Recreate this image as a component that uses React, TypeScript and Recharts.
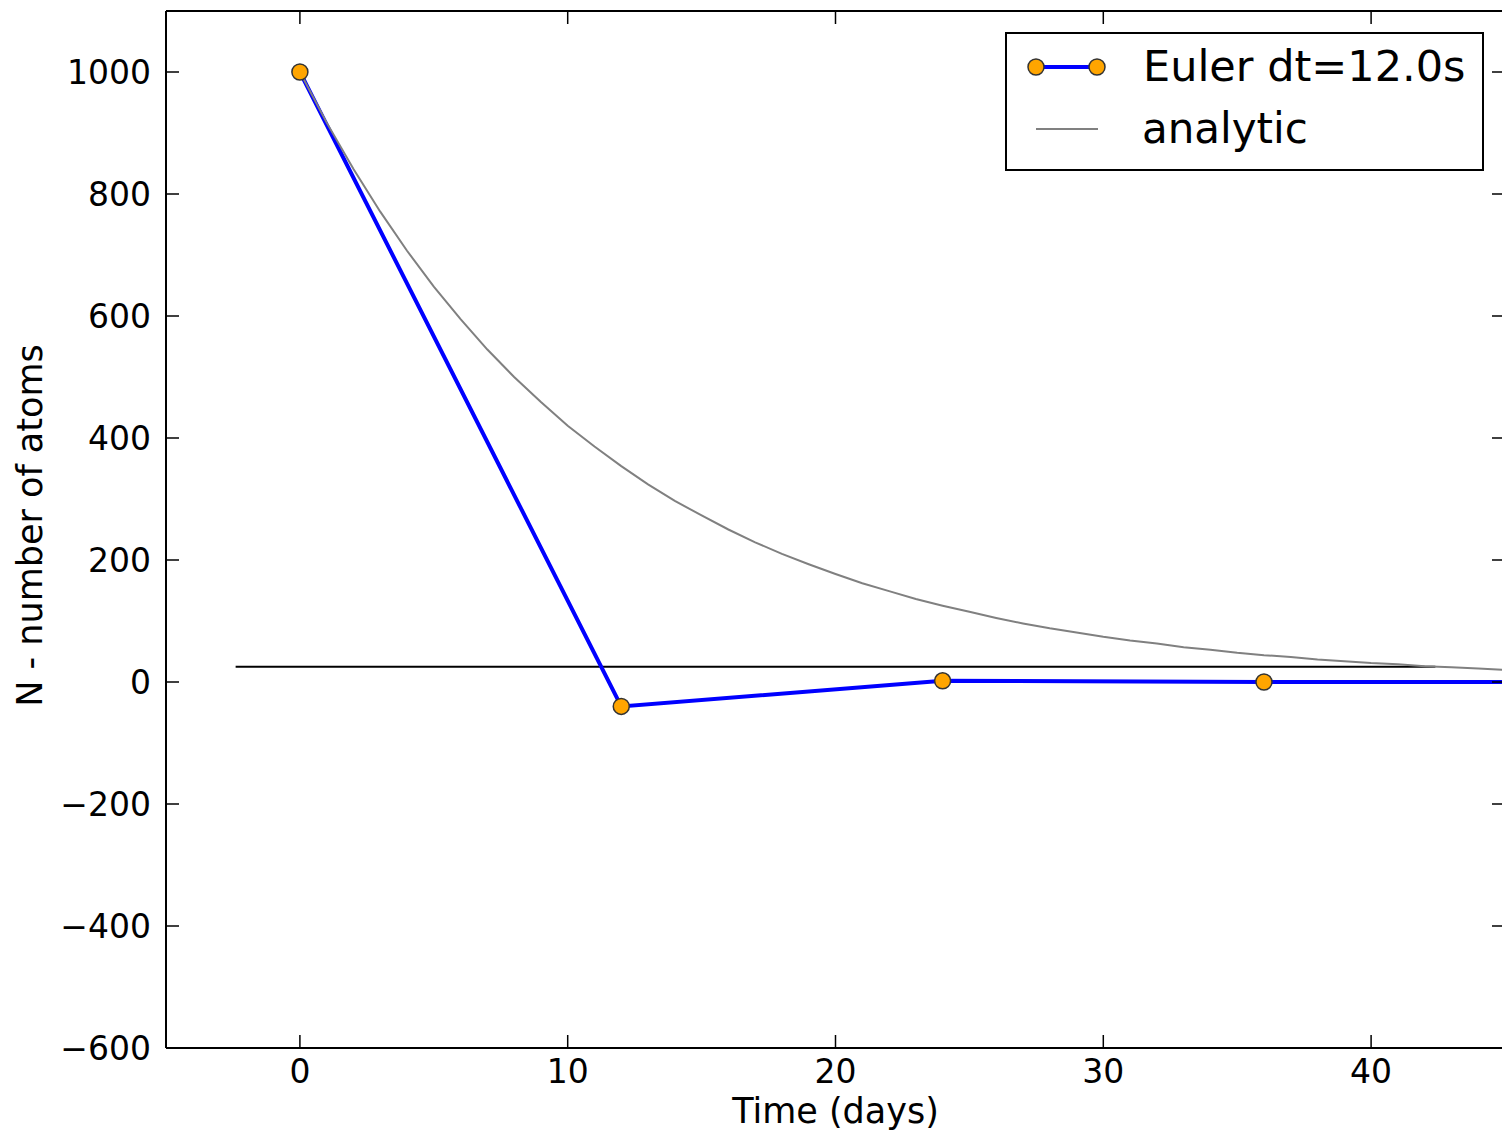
import React from 'react';
import { LineChart, Line, XAxis, YAxis, ReferenceLine, Legend } from 'recharts';

const FONT = '"DejaVu Sans", sans-serif';

const xTicks = [0, 10, 20, 30, 40];
const yTicks = [-600, -400, -200, 0, 200, 400, 600, 800, 1000];
const xDomain: [number, number] = [-5, 45];
const yDomain: [number, number] = [-600, 1100];

const eulerT = [0, 12, 24, 36, 48];
const eulerN = [1000, -40, 2, 0, 0];

const analyticT = [
  0, 1, 2, 3, 4, 5, 6, 7, 8, 9, 10, 11, 12, 13, 14, 15, 16, 17, 18, 19, 20, 21, 22,
  23, 24, 25, 26, 27, 28, 29, 30, 31, 32, 33, 34, 35, 36, 37, 38, 39, 40, 41, 42, 43, 44, 45,
];
const analyticN = [
  1000, 917, 841, 771, 707, 648, 595, 545, 500, 459, 420, 386, 354, 324, 297, 273, 250, 229,
  210, 193, 177, 162, 149, 136, 125, 115, 105, 96, 88, 81, 74, 68, 63, 57, 53, 48, 44, 41, 37,
  34, 31, 29, 26, 24, 22, 20,
];

const refLineT = [-2.4, 42.4];
const refLineN = 25;

const eulerLabel = 'Euler dt=12.0s';
const analyticLabel = 'analytic';
const xLabel = 'Time (days)';
const yLabel = 'N - number of atoms';

const eulerData = eulerT.map((t, i) => ({ t, n: eulerN[i] }));
const analyticData = analyticT.map((t, i) => ({ t, n: analyticN[i] }));

const fmt = (v: number) => (v < 0 ? '\u2212' + Math.abs(v) : String(v));

const TICK_LEN = 13;

const BottomTick = (p: any) => (
  <g>
    <line x1={p.x} y1={p.y} x2={p.x} y2={p.y - TICK_LEN} stroke="#000" strokeWidth={1.5} />
    <text x={p.x} y={p.y + 35} textAnchor="middle" fontSize={33} fontFamily={FONT} fill="#000">
      {fmt(p.payload.value)}
    </text>
  </g>
);

const TopTick = (p: any) => (
  <line x1={p.x} y1={p.y} x2={p.x} y2={p.y + TICK_LEN} stroke="#000" strokeWidth={1.5} />
);

const LeftTick = (p: any) => (
  <g>
    <line x1={p.x} y1={p.y} x2={p.x + TICK_LEN} y2={p.y} stroke="#000" strokeWidth={1.5} />
    <text x={p.x - 15} y={p.y + 12} textAnchor="end" fontSize={33} fontFamily={FONT} fill="#000">
      {fmt(p.payload.value)}
    </text>
  </g>
);

const RightTick = (p: any) => (
  <line x1={p.x} y1={p.y} x2={p.x - TICK_LEN} y2={p.y} stroke="#000" strokeWidth={1.5} />
);

const YLabel = (p: any) => {
  const vb = p.viewBox || { x: 0, y: 11, width: 166, height: 1037 };
  const cx = 42;
  const cy = vb.y + vb.height / 2 - 4;
  return (
    <text
      x={cx}
      y={cy}
      transform={`rotate(-90, ${cx}, ${cy})`}
      textAnchor="middle"
      fontSize={35}
      fontFamily={FONT}
      fill="#000"
    >
      {yLabel}
    </text>
  );
};

const LegendBox = () => (
  <svg width={480} height={140} style={{ display: 'block' }}>
    <rect x={1} y={1} width={477} height={137} fill="#fff" stroke="#000" strokeWidth={2} />
    <line x1={31} y1={35} x2={92} y2={35} stroke="#0000FF" strokeWidth={4} />
    <circle cx={31} cy={35} r={8} fill="#FFA500" stroke="#333" strokeWidth={1.5} />
    <circle cx={92} cy={35} r={8} fill="#FFA500" stroke="#333" strokeWidth={1.5} />
    <text x={138} y={49} fontSize={43} fontFamily={FONT} fill="#000">
      {eulerLabel}
    </text>
    <line x1={31} y1={97} x2={93} y2={97} stroke="#808080" strokeWidth={2} />
    <text x={137} y={111} fontSize={42} fontFamily={FONT} fill="#000">
      {analyticLabel}
    </text>
  </svg>
);

export default function App() {
  return (
    <div
      style={{
        position: 'absolute',
        left: 0,
        top: 0,
        width: 1502,
        height: 1136,
        overflow: 'hidden',
        background: '#fff',
      }}
    >
      <LineChart width={1520} height={1136} margin={{ top: 10, right: 14, bottom: 0, left: 0 }}>
        <XAxis
          xAxisId="b"
          type="number"
          dataKey="t"
          domain={xDomain}
          ticks={xTicks}
          allowDataOverflow
          interval={0}
          tickSize={0}
          tickMargin={0}
          tickLine={false}
          height={88}
          axisLine={{ stroke: '#000', strokeWidth: 2 }}
          tick={BottomTick}
          label={{
            value: xLabel,
            position: 'insideBottom',
            offset: 13,
            fontSize: 35,
            fontFamily: FONT,
            fill: '#000',
            style: { fontSize: 35, fontFamily: FONT, fill: '#000' },
          }}
        />
        <XAxis
          xAxisId="t"
          orientation="top"
          type="number"
          dataKey="t"
          domain={xDomain}
          ticks={xTicks}
          allowDataOverflow
          interval={0}
          tickSize={0}
          tickMargin={0}
          tickLine={false}
          height={1}
          axisLine={{ stroke: '#000', strokeWidth: 2 }}
          tick={TopTick}
        />
        <YAxis
          yAxisId="l"
          type="number"
          domain={yDomain}
          ticks={yTicks}
          allowDataOverflow
          interval={0}
          tickSize={0}
          tickMargin={0}
          tickLine={false}
          width={166}
          axisLine={{ stroke: '#000', strokeWidth: 2 }}
          tick={LeftTick}
          label={<YLabel />}
        />
        <YAxis
          yAxisId="r"
          orientation="right"
          type="number"
          domain={yDomain}
          ticks={yTicks}
          allowDataOverflow
          interval={0}
          tickSize={0}
          tickMargin={0}
          tickLine={false}
          width={1}
          axisLine={{ stroke: '#000', strokeWidth: 2 }}
          tick={RightTick}
        />
        <ReferenceLine
          xAxisId="b"
          yAxisId="l"
          segment={[
            { x: refLineT[0], y: refLineN },
            { x: refLineT[1], y: refLineN },
          ]}
          stroke="#000"
          strokeWidth={2}
        />
        <Line
          xAxisId="b"
          yAxisId="l"
          data={eulerData}
          dataKey="n"
          name={eulerLabel}
          type="linear"
          stroke="#0000FF"
          strokeWidth={4}
          dot={{ r: 8, fill: '#FFA500', stroke: '#333', strokeWidth: 1.5 }}
          activeDot={false}
          isAnimationActive={false}
        />
        <Line
          xAxisId="b"
          yAxisId="l"
          data={analyticData}
          dataKey="n"
          name={analyticLabel}
          type="linear"
          stroke="#808080"
          strokeWidth={2}
          dot={false}
          activeDot={false}
          isAnimationActive={false}
        />
        <Legend
          layout="horizontal"
          verticalAlign="middle"
          align="center"
          wrapperStyle={{ left: 1005, top: 32, width: 480, height: 140 }}
          content={() => <LegendBox />}
        />
      </LineChart>
    </div>
  );
}
